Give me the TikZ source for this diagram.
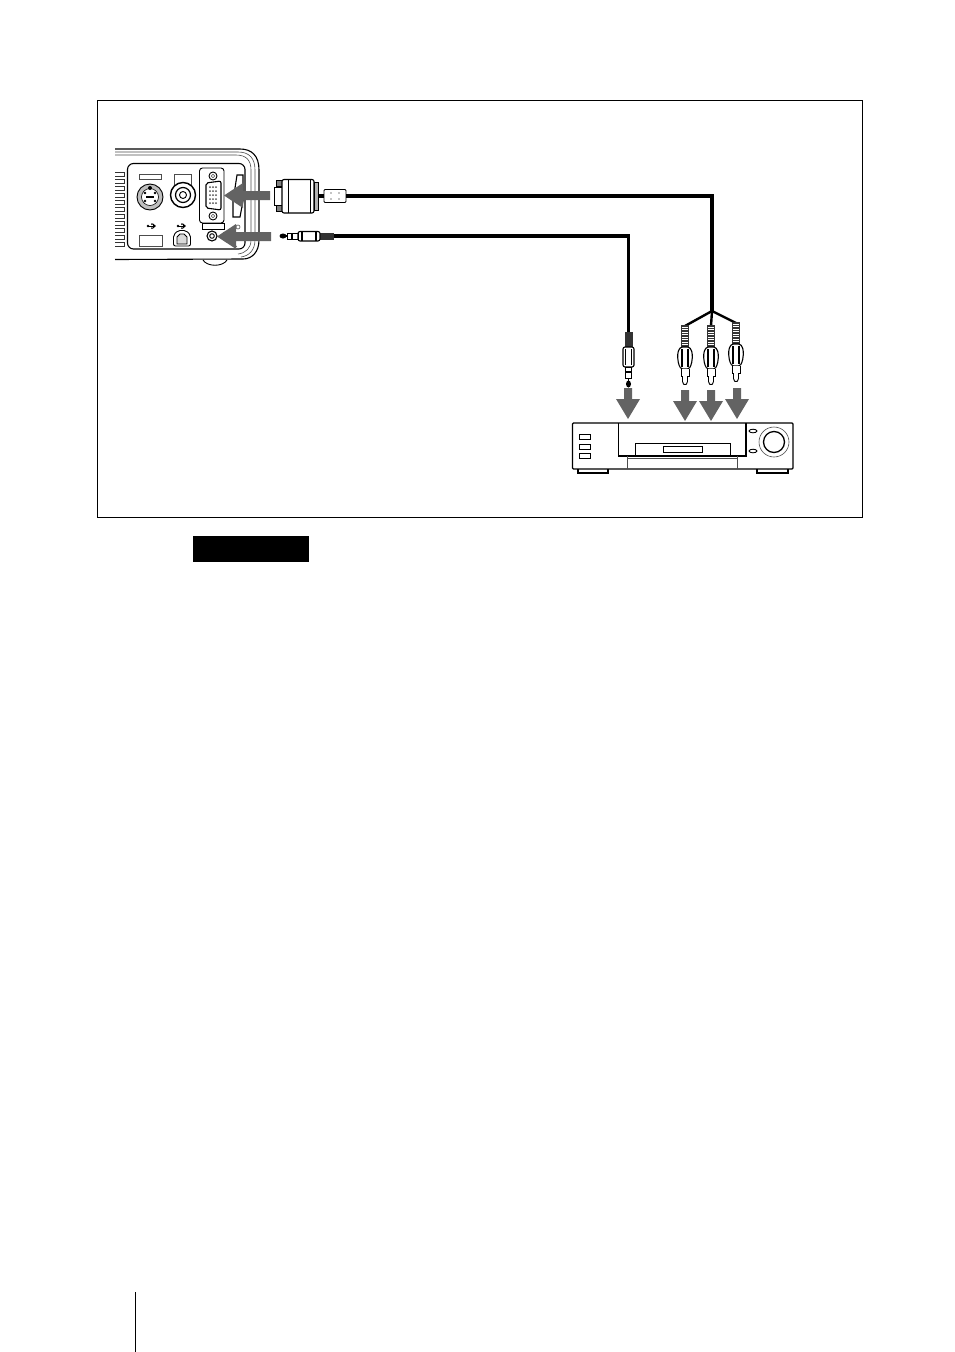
\documentclass[tikz,border=0pt]{standalone}
\usetikzlibrary{positioning}
\definecolor{arrowgray}{gray}{0.39}
\tikzset{
  outline/.style={draw=black, line width=0.9pt},
  thinline/.style={draw=black!70, line width=0.6pt},
  cable/.style={draw=black, line width=3.4pt},
  branch/.style={draw=black, line width=2.4pt},
  pics/rcaplug/.style={code={
    \fill[black!80] (-4,-1) rectangle (4,21);
    \foreach \y in {1,3.5,...,20} \draw[white, line width=0.5pt] (-3,\y) -- (3,\y);
    \draw[outline, line width=1.1pt, fill=white, rounded corners=1.5pt] (-6.5,24) -- (-7.5,30) -- (-6.5,38) -- (-4,43) -- (4,43) -- (6.5,38) -- (7.5,30) -- (6.5,24) -- (4,21) -- (-4,21) -- cycle;
    \draw[line width=1.2pt] (-3,23) -- (-3,41) (3,23) -- (3,41);
    \draw[outline, fill=white] (-4,43) -- (-4,50) -- (4,50) -- (4,43);
    \draw[outline, fill=white, rounded corners=1.5pt] (-2.5,50) -- (-2.5,57) -- (0,59.5) -- (2.5,57) -- (2.5,50);
  }},
  pics/grayleft/.style={code={
    \fill[arrowgray] (0,0) -- (19,-12.5) -- (19,-4.5) -- (#1,-4.5) -- (#1,4.5) -- (19,4.5) -- (19,12.5) -- cycle;
  }},
  graydown/.pic={
    \fill[arrowgray] (0,0) -- (-12,-20) -- (-4,-20) -- (-4,-31) -- (4,-31) -- (4,-20) -- (12,-20) -- cycle;
  },
  usbmark/.pic={
    \draw[line width=1pt] (-4,0) -- (3,0);
    \fill (4,0) -- (1,-2.5) -- (1,2.5) -- cycle;
    \fill (-4,0) circle (1.4) (0,-2) circle (1) (0,2) circle (1);
  }
}
\begin{document}
\begin{tikzpicture}[x=1pt,y=-1pt]
    \useasboundingbox (0,0) rectangle (954,1352);
    \draw[line width=1pt] (97.5,100.5) rectangle (862.5,517.5);
    \node[fill=black, minimum width=116pt, minimum height=26pt, inner sep=0pt] (notebox) at (251,549) {};
    \draw[line width=1.3pt] (135.5,1292) -- (135.5,1352);

    % projector rear
    \draw[outline, line width=1.1pt] (115,149) -- (240,149) .. controls (252,149) and (259,156) .. (259,170) -- (259,240) .. controls (259,252) and (252,259) .. (243,259) -- (115,259.5);
    \draw[thinline] (115,152) -- (238,152) .. controls (249,152) and (255,158) .. (255,170) -- (255,240) .. controls (255,250) and (249,256) .. (241,257);
    \draw[thinline] (115,155) -- (236,155) .. controls (246,155) and (251,160) .. (251,170) -- (251,240) .. controls (251,248) and (246,253) .. (238,254);
    \draw[outline, line width=1.1pt, rounded corners=6pt] (127.5,163.5) rectangle (245,249);
    \draw[outline] (203,260) .. controls (207,267) and (223,267) .. (227,260);
    \foreach \y in {172,179,...,243}
      \draw[draw=black!80, line width=1pt] (115,\y) -- (124,\y) -- (124,\y+4) -- (115,\y+4);

    % s-video socket
    \draw[thinline] (139.5,174.5) rectangle (161,179);
    \draw[outline, fill=black!25] (150,197) circle (13);
    \draw[fill=white, line width=0.6pt] (150,197) circle (8.5);
    \fill (145,193) circle (1.4) (155,193) circle (1.4) (145,201) circle (1.4) (155,201) circle (1.4) (150,188) circle (2);
    \draw[line width=1.2pt] (146,197) -- (154,197);
    % video socket
    \draw[thinline] (174,186) -- (174,174.5) -- (191,174.5) -- (191,186);
    \draw[outline, line width=1.4pt, fill=white] (183,195) circle (12.5);
    \draw[outline, line width=1.2pt] (183,195) circle (7.5);
    \draw[outline] (183,195) circle (3.5);
    % vga socket
    \draw[outline, rounded corners=3pt] (199.5,168) rectangle (224,223);
    \draw[outline] (202,223) rectangle (224,229);
    \draw[outline, line width=1.1pt, rounded corners=2pt] (206,183) -- (221,181) -- (221,210) -- (206,208) -- cycle;
    \draw[outline] (213,176) circle (4) (213,216) circle (4);
    \draw[thinline] (213,176) circle (1.8) (213,216) circle (1.8);
    \foreach \x in {210,213,216}
      \foreach \y in {187,191,...,204}
        \fill[black!70] (\x,\y) circle (1);
    \draw[outline, line width=1.1pt] (237,175) -- (243,175) -- (243,201) -- (240,217) -- (233,217) -- (233,201) -- cycle;
    \draw[outline] (233,200) -- (243,200);
    % usb and audio
    \draw[thinline] (139.5,235.5) rectangle (162,246);
    \draw[outline, rounded corners=2pt] (173.5,246) -- (173.5,235) -- (178,230.5) -- (186,230.5) -- (190.5,235) -- (190.5,246) -- cycle;
    \draw[outline, fill=black!15] (177,244) -- (177,237) -- (180,234) -- (184,234) -- (187,237) -- (187,244) -- cycle;
    \pic at (152,226) {usbmark};
    \pic at (182,226) {usbmark};
    \draw[outline, line width=1.1pt] (212,236) circle (5);
    \draw[outline] (212,236) circle (2.3);
    \draw[thinline] (238,227) circle (2);
    \draw[thinline] (223,232) -- (237,247);

    % vga plug and ferrite
    \draw[outline, fill=white] (274,187) rectangle (282,205);
    \draw[outline, fill=black!50] (276,205) rectangle (282,211);
    \draw[outline, fill=black!50] (276,180) rectangle (282,186);
    \draw[outline, line width=1.1pt, fill=white, rounded corners=2pt] (282,179.5) rectangle (314,213);
    \draw[outline] (288,180) -- (288,213) (310,180) -- (310,213);
    \draw[outline, fill=black!30] (314,182) rectangle (318,210);
    \node[draw=black, line width=0.8pt, fill=white, rounded corners=1pt, minimum width=22pt, minimum height=13pt, inner sep=0pt] (ferrite) at (335,196) {};
    \fill (331,193) circle (0.7) (339,193) circle (0.7) (331,199) circle (0.7) (339,199) circle (0.7);
    \coordinate (vgaout) at (318,196);
    \coordinate (vgacorner) at (712,196);
    \coordinate (split) at (712,311);
    \draw[cable] (vgaout) -- (ferrite);
    \draw[cable] (ferrite) -- (vgacorner) -- (split);

    % rca branches and plugs
    \coordinate (rcaa) at (685,326);
    \coordinate (rcab) at (711,326);
    \coordinate (rcac) at (736,323);
    \draw[branch] (split) -- (rcaa);
    \draw[branch] (split) -- (rcab);
    \draw[branch] (split) -- (rcac);
    \pic at (rcaa) {rcaplug};
    \pic at (rcab) {rcaplug};
    \pic at (rcac) {rcaplug};

    % mini jack plugs
    \coordinate (jackleft) at (333,236);
    \coordinate (jackcorner) at (628.5,236);
    \coordinate (jacktop) at (628.5,332);
    \draw[cable] (jackleft) -- (jackcorner) -- (jacktop);
    \fill[black!80] (319,232.5) rectangle (334,239.5);
    \draw[outline, line width=1.1pt, fill=white, rounded corners=2pt] (298,231.5) rectangle (320,241);
    \draw[line width=1.2pt] (302,232) -- (302,241) (316,232) -- (316,241);
    \draw[line width=1pt] (287,233.5) rectangle (298,239);
    \draw[line width=1.4pt] (292,233) -- (292,240);
    \fill (283,236) ellipse (3.5 and 2.5);
    \draw[line width=1.5pt] (285,236) -- (288,236);
    \fill[black!80] (624.5,332) rectangle (632.5,348);
    \draw[outline, line width=1.1pt, fill=white, rounded corners=2pt] (623,347) rectangle (634,367);
    \draw[line width=1.1pt] (625.5,349) -- (625.5,365) (631.5,349) -- (631.5,365);
    \draw[line width=1pt, fill=white] (625.5,367) rectangle (631.5,378);
    \draw[line width=1.4pt] (625,372) -- (632,372);
    \fill (628.5,384) ellipse (2.5 and 3.5);
    \draw[line width=1.5pt] (628.5,378) -- (628.5,382);

    % vcr
    \draw[outline, line width=1.1pt, rounded corners=1pt] (572.5,423) rectangle (793,469);
    \draw[line width=1.4pt] (578,469) -- (578,473) -- (608,473) -- (608,469);
    \draw[line width=1.4pt] (757,469) -- (757,473) -- (788,473) -- (788,469);
    \draw[outline, line width=1.1pt] (618.5,423) -- (618.5,456) -- (746,456) -- (746,423);
    \draw[outline] (635.5,456) -- (635.5,443) -- (730,443) -- (730,456);
    \draw[outline] (663.5,446.5) rectangle (702,452);
    \draw[thinline] (627,456) -- (627,469) (737,456) -- (737,469) (627,458.5) -- (737,458.5);
    \foreach \y in {434,444,453.5} \draw[outline] (579.5,\y) rectangle (590.5,\y+5);
    \draw[outline] (753,431) ellipse (4 and 1.8) (753,451) ellipse (4 and 1.8);
    \draw[thinline] (774,442) circle (15);
    \draw[outline, line width=1.3pt] (774,442) circle (10.5);

    % connection arrows
    \pic at (224,195.5) {grayleft=46};
    \pic at (217,236.5) {grayleft=54};
    \pic at (628,419) {graydown};
    \pic at (685,421) {graydown};
    \pic at (711,421) {graydown};
    \pic at (737,419) {graydown};
\end{tikzpicture}
\end{document}
